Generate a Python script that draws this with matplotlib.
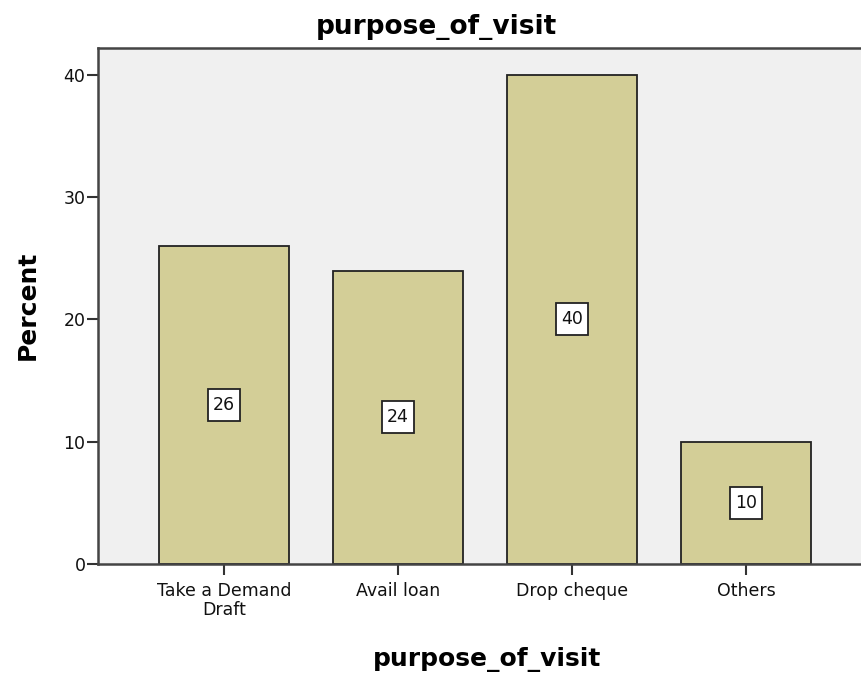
import matplotlib
matplotlib.use("Agg")
import matplotlib.pyplot as plt

categories = ["Take a Demand\nDraft", "Avail loan", "Drop cheque", "Others"]
percent = [26, 24, 40, 10]
yticks = [0, 10, 20, 30, 40]

plt.rcParams["font.family"] = ["DejaVu Sans"]

W, H = 862, 679
fig = plt.figure(figsize=(W / 100, H / 100), dpi=100)
left, right, top, bottom = 98, 872, 48, 564
ax = fig.add_axes([left / W, (H - bottom) / H, (right - left) / W, (bottom - top) / H])
ax.set_facecolor("#F0F0F0")

x = list(range(len(categories)))
ax.bar(x, percent, width=0.75, color="#D3CE97", edgecolor="#222222", linewidth=1.3, zorder=2)

# value labels: white square boxes centred at half bar height
for xi, v in zip(x, percent):
    ax.plot([xi], [v / 2], marker="s", markersize=23.5, markerfacecolor="white",
            markeredgecolor="#222222", markeredgewidth=1.3, linestyle="none", zorder=3)
    ax.text(xi, v / 2, f"{v}", ha="center", va="center", fontsize=12.5, color="#111111", zorder=4)

ax.set_xlim(-0.724, 3.724)
ax.set_ylim(0, 42.2)
ax.set_xticks(x)
ax.set_xticklabels(categories, fontsize=12.5, linespacing=1.05, color="#111111")
ax.set_yticks(yticks)
ax.set_yticklabels([str(t) for t in yticks], fontsize=12.5, color="#111111")
ax.tick_params(axis="both", length=8, width=1.5, color="#333333")
ax.tick_params(axis="x", pad=5)
ax.tick_params(axis="y", pad=1)
for s in ax.spines.values():
    s.set_color("#444444")
    s.set_linewidth(1.8)

fig.text(436 / W, 1 - 27 / H, "purpose_of_visit", ha="center", va="center", fontsize=19, fontweight="bold")
fig.text(487 / W, 1 - 659 / H, "purpose_of_visit", ha="center", va="center", fontsize=18, fontweight="bold")
fig.text(28 / W, 1 - 305 / H, "Percent", ha="center", va="center", rotation=90, fontsize=18, fontweight="bold")

fig.savefig("out.png", dpi=100)
